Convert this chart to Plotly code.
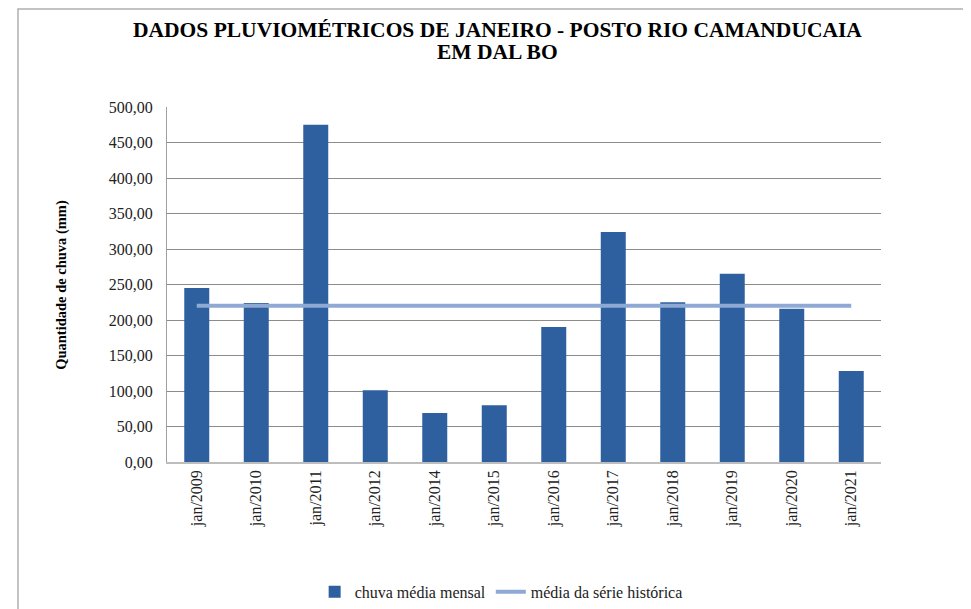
import plotly.graph_objects as go

# janeiro - posto Rio Camanducaia em Dal Bo
categorias = ['jan/2009', 'jan/2010', 'jan/2011', 'jan/2012', 'jan/2014', 'jan/2015',
              'jan/2016', 'jan/2017', 'jan/2018', 'jan/2019', 'jan/2020', 'jan/2021']
chuva_mensal = [245.0, 224.0, 475.0, 101.0, 69.0, 80.0, 190.0, 324.0, 225.0, 265.0, 216.0, 128.0]
media_historica = [220.0] * len(categorias)

fonte = 'Liberation Serif'

fig = go.Figure()

fig.add_trace(go.Bar(
    x=categorias,
    y=chuva_mensal,
    name='chuva média mensal',
    marker=dict(color='#2e5f9f', line=dict(width=0)),
    width=0.42,
))

fig.add_trace(go.Scatter(
    x=categorias,
    y=media_historica,
    mode='lines',
    name='média da série histórica',
    line=dict(color='#8eaad4', width=4),
))

# a pagina html tem margem de 8px no body
fig.update_layout(
    width=971,
    height=609,
    margin=dict(l=159, r=98, t=99, b=155, autoexpand=False),
    paper_bgcolor='white',
    plot_bgcolor='white',
    font=dict(family=fonte, size=16, color='#222222'),
    showlegend=True,
    legend=dict(orientation='h', x=0.468, y=-0.366, xanchor='center', yanchor='middle',
                font=dict(family=fonte, size=16, color='#222222'), itemwidth=30, tracegroupgap=0),
    bargap=0.58,
    separators=',.',
)

# titulo em duas linhas
fig.add_annotation(
    text='<b>DADOS PLUVIOMÉTRICOS DE JANEIRO - POSTO RIO CAMANDUCAIA</b>',
    xref='paper', yref='paper', x=0.463, y=1.217, xanchor='center', yanchor='middle',
    showarrow=False, font=dict(family=fonte, size=21.5, color='#000000'),
)
fig.add_annotation(
    text='<b>EM DAL BO</b>',
    xref='paper', yref='paper', x=0.463, y=1.155, xanchor='center', yanchor='middle',
    showarrow=False, font=dict(family=fonte, size=21.5, color='#000000'),
)

fig.add_annotation(
    text='<b>Quantidade de chuva (mm)</b>', textangle=-90,
    xref='paper', yref='paper', x=-0.148, y=0.5, xanchor='center', yanchor='middle',
    showarrow=False, font=dict(family=fonte, size=14.5, color='#000000'),
)

# moldura do grafico
fig.add_shape(type='rect', xref='paper', yref='paper',
              x0=-0.2087, x1=1.3, y0=-0.5, y1=1.276,
              line=dict(color='#b0b0b0', width=1.5), layer='below')

fig.update_xaxes(
    tickangle=-90,
    tickfont=dict(family=fonte, size=16, color='#222222'),
    showline=True, linecolor='#bdbdbd', linewidth=1.5,
    showgrid=False, ticks='', automargin=False,
)

fig.update_yaxes(
    range=[0, 500],
    dtick=50,
    tickformat='.2f',
    tickfont=dict(family=fonte, size=16, color='#222222'),
    showline=True, linecolor='#a0a0a0', linewidth=1,
    showgrid=True, gridcolor='#8c8c8c', gridwidth=1,
    zeroline=False, ticks='', ticklabelstandoff=10, automargin=False,
)

fig.write_html('out.html')
